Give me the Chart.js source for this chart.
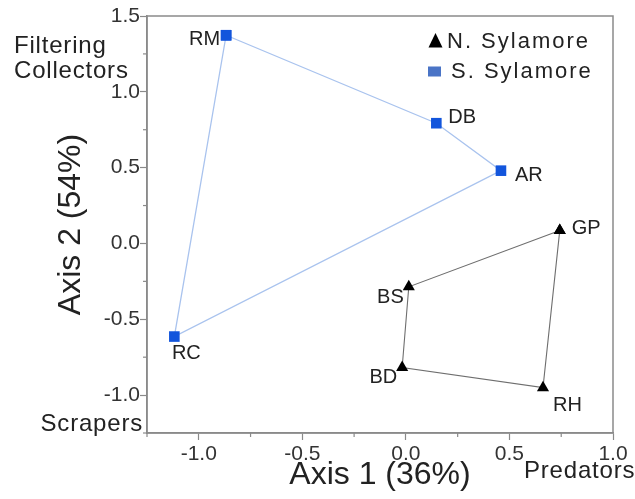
<!DOCTYPE html>
<html><head><meta charset="utf-8">
<script src="https://cdn.jsdelivr.net/npm/chart.js@4/dist/chart.umd.min.js"></script>
<style>html,body{margin:0;padding:0;background:#fff}#wrap{width:635px;height:499px}</style>
</head><body><div id="wrap"><canvas id="c" width="635" height="499"></canvas></div>
<script>
// ---- data ----
const nSites = ['GP', 'BS', 'BD', 'RH'];
const nX = [0.743, 0.014, -0.018, 0.662];
const nY = [0.086, -0.286, -0.818, -0.951];
const sSites = ['RM', 'DB', 'AR', 'RC'];
const sX = [-0.868, 0.147, 0.459, -1.118];
const sY = [1.373, 0.793, 0.480, -0.614];
const seriesNames = ['N. Sylamore', 'S. Sylamore'];
const xTickLabels = ['-1.0', '-0.5', '0.0', '0.5', '1.0'];
const yTickLabels = ['-1.0', '-0.5', '0.0', '0.5', '1.0', '1.5'];
const xTitle = 'Axis 1 (36%)';
const yTitle = 'Axis 2 (54%)';
const notes = ['Filtering', 'Collectors', 'Scrapers', 'Predators'];

// ---- helpers ----
const FONT = "'Liberation Sans', Arial, Helvetica, sans-serif";
const TXT = '#222';
const AXC = '#8a8a8a';
function closed(xs, ys) {
  const pts = xs.map((x, i) => ({x: x, y: ys[i]}));
  pts.push({x: xs[0], y: ys[0]});
  return pts;
}
const isMajor = v => Math.abs(v * 2 - Math.round(v * 2)) < 1e-6;
function fmt(v, list) {
  const s = (Math.abs(v) < 1e-9 ? 0 : v).toFixed(1);
  return list.indexOf(s) >= 0 ? s : '';
}
// label offsets (style, px): [dx, dy, align]
const labelOffsets = {
  RM: [-6, 4, 'right'], DB: [12, -6, 'left'], AR: [14, 5, 'left'], RC: [12, 17, 'center'],
  GP: [12, -2, 'left'], BS: [-5, 11, 'right'], BD: [-5, 10, 'right'], RH: [10, 18, 'left']
};

const extras = {
  id: 'extras',
  beforeDatasetsDraw(chart) {
    const ctx = chart.ctx, a = chart.chartArea;
    ctx.save();
    ctx.strokeStyle = AXC; ctx.lineWidth = 1.5;
    ctx.strokeRect(a.left, a.top, a.right - a.left, a.bottom - a.top);
    // minor ticks
    const xs = chart.scales.x, ys = chart.scales.y;
    ctx.lineWidth = 1.2;
    xs.ticks.forEach(t => {
      if (!isMajor(t.value)) {
        const px = xs.getPixelForValue(t.value);
        ctx.beginPath(); ctx.moveTo(px, a.bottom); ctx.lineTo(px, a.bottom + 4); ctx.stroke();
      }
    });
    ys.ticks.forEach(t => {
      if (!isMajor(t.value)) {
        const py = ys.getPixelForValue(t.value);
        ctx.beginPath(); ctx.moveTo(a.left, py); ctx.lineTo(a.left - 4, py); ctx.stroke();
      }
    });
    ctx.restore();
  },
  afterDraw(chart) {
    const ctx = chart.ctx;
    ctx.save();
    ctx.fillStyle = TXT;
    // point labels
    ctx.font = '20px ' + FONT;
    ctx.textBaseline = 'middle';
    [[0, nSites], [1, sSites]].forEach(([di, names]) => {
      const meta = chart.getDatasetMeta(di);
      names.forEach((n, i) => {
        const el = meta.data[i];
        const o = labelOffsets[n];
        ctx.textAlign = o[2];
        ctx.fillText(n, el.x + o[0], el.y + o[1]);
      });
    });
    // annotations
    ctx.font = '24px ' + FONT;
    ctx.textBaseline = 'alphabetic';
    try { ctx.letterSpacing = '0.8px'; } catch (e) {}
    ctx.textAlign = 'left';
    ctx.fillText(notes[0], 14, 53);
    ctx.fillText(notes[1], 14, 78);
    ctx.textAlign = 'right';
    ctx.fillText(notes[2], 143, 431);
    ctx.textAlign = 'left';
    ctx.fillText(notes[3], 524, 478);
    // legend
    ctx.font = '22px ' + FONT;
    try { ctx.letterSpacing = '2px'; } catch (e) {}
    ctx.fillStyle = '#000';
    ctx.beginPath(); ctx.moveTo(435.5, 33); ctx.lineTo(442.5, 47.5); ctx.lineTo(428.5, 47.5); ctx.closePath(); ctx.fill();
    ctx.fillStyle = '#4a74c6';
    ctx.fillRect(428, 66.5, 13, 10);
    ctx.fillStyle = TXT;
    ctx.fillText(seriesNames[0], 447, 47.5);
    ctx.fillText(seriesNames[1], 451, 77.5);
    ctx.restore();
  }
};

new Chart(document.getElementById('c'), {
  type: 'scatter',
  data: {
    datasets: [
      {
        label: seriesNames[0], data: closed(nX, nY), showLine: true,
        borderColor: '#6e6e6e', borderWidth: 1.1,
        pointStyle: 'triangle', pointRadius: 7, pointHoverRadius: 7,
        pointBackgroundColor: '#000', pointBorderColor: '#000', pointBorderWidth: 0
      },
      {
        label: seriesNames[1], data: closed(sX, sY), showLine: true,
        borderColor: '#a9c3ee', borderWidth: 1.3,
        pointStyle: 'rect', pointRadius: 7.5, pointHoverRadius: 7.5,
        pointBackgroundColor: '#1255dc', pointBorderColor: '#1255dc', pointBorderWidth: 0
      }
    ]
  },
  options: {
    responsive: false, animation: false, devicePixelRatio: 1,
    layout: {padding: {left: 0, top: 16, right: 22, bottom: 0}},
    plugins: {legend: {display: false}, tooltip: {enabled: false}},
    scales: {
      x: {
        type: 'linear', min: -1.25, max: 1.0,
        afterFit(s) { s.height = 66; },
        border: {color: AXC, width: 1.5},
        grid: {drawOnChartArea: false, drawTicks: true, tickLength: 7,
          tickColor: c => isMajor(c.tick.value) ? AXC : 'rgba(0,0,0,0)', tickWidth: 1.2},
        ticks: {stepSize: 0.25, autoSkip: false, maxRotation: 0, padding: 2,
          color: '#333', font: {family: FONT, size: 21},
          callback: v => fmt(v, xTickLabels)},
        title: {display: true, text: xTitle, color: TXT, font: {family: FONT, size: 32},
          padding: {top: 0, bottom: 5}}
      },
      y: {
        type: 'linear', min: -1.25, max: 1.5,
        afterFit(s) { s.width = 147; },
        border: {color: AXC, width: 1.5},
        grid: {drawOnChartArea: false, drawTicks: true, tickLength: 7,
          tickColor: c => isMajor(c.tick.value) ? AXC : 'rgba(0,0,0,0)', tickWidth: 1.2},
        ticks: {stepSize: 0.25, autoSkip: false, padding: 0,
          color: '#333', font: {family: FONT, size: 21},
          callback: v => fmt(v, yTickLabels)},
        title: {display: true, text: yTitle, color: TXT, font: {family: FONT, size: 32},
          padding: {top: 52, bottom: 0}}
      }
    }
  },
  plugins: [extras]
});
</script>
</body></html>
